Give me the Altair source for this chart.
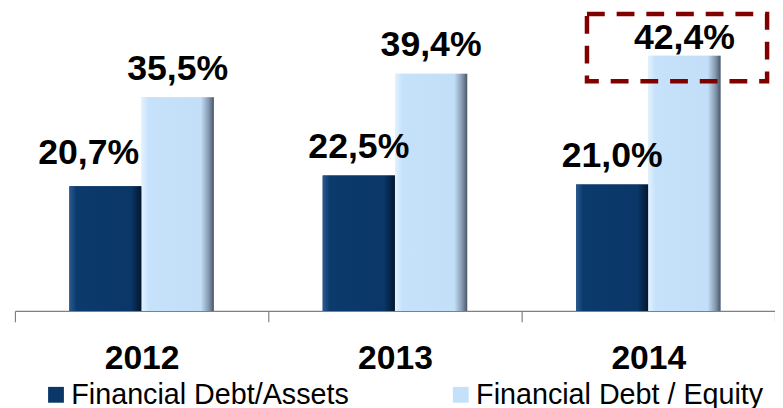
import altair as alt
import pandas as pd

years = ["2012", "2013", "2014"]
series = ["Financial Debt/Assets", "Financial Debt / Equity"]
debt_assets = [20.7, 22.5, 21.0]
debt_equity = [35.5, 39.4, 42.4]
label_assets = ["20,7%", "22,5%", "21,0%"]
label_equity = ["35,5%", "39,4%", "42,4%"]

rows = []
for i, y in enumerate(years):
    rows.append({"year": y, "series": series[0], "value": debt_assets[i], "label": label_assets[i]})
    rows.append({"year": y, "series": series[1], "value": debt_equity[i], "label": label_equity[i]})
df = pd.DataFrame(rows)

DARK = "#0a3768"
LIGHT = "#c5e1fa"
FONT = "Liberation Sans"

x_enc = alt.X(
    "year:N",
    sort=years,
    scale=alt.Scale(paddingInner=0, paddingOuter=0),
    axis=alt.Axis(
        title=None, labelAngle=0, labelFontSize=34, labelFontWeight="bold",
        labelColor="black", labelFont=FONT, tickBand="extent", tickSize=11,
        tickColor="#808080", domainColor="#808080", tickWidth=1.2, domainWidth=1.2,
        labelPadding=20, grid=False,
    ),
)
xo_enc = alt.XOffset("series:N", sort=series, scale=alt.Scale(paddingInner=0, paddingOuter=0.753))
y_enc = alt.Y("value:Q", scale=alt.Scale(domain=[0, 50], nice=False), axis=None)

base = alt.Chart(df)

bars = base.mark_bar().encode(
    x=x_enc, xOffset=xo_enc, y=y_enc,
    color=alt.Color(
        "series:N", sort=series,
        scale=alt.Scale(domain=series, range=[DARK, LIGHT]),
        legend=alt.Legend(
            title=None, orient="none", legendX=27, legendY=374, direction="horizontal",
            symbolType="square", symbolSize=256, symbolStrokeWidth=0,
            labelFontSize=29, labelFont=FONT, labelColor="black", labelOffset=1,
            labelLimit=0, columnPadding=98, padding=0,
        ),
    ),
)

dark_grad = alt.Gradient(
    gradient="linear", x1=0, x2=1, y1=0, y2=0,
    stops=[
        alt.GradientStop(color="#2a5a90", offset=0),
        alt.GradientStop(color="#0b3a6c", offset=0.1),
        alt.GradientStop(color="#0a3768", offset=0.85),
        alt.GradientStop(color="#03162e", offset=1),
    ],
)
light_grad = alt.Gradient(
    gradient="linear", x1=0, x2=1, y1=0, y2=0,
    stops=[
        alt.GradientStop(color="#e2f2ff", offset=0),
        alt.GradientStop(color="#c6e2fb", offset=0.1),
        alt.GradientStop(color="#c3dff8", offset=0.82),
        alt.GradientStop(color="#8397ae", offset=0.93),
        alt.GradientStop(color="#4a5566", offset=1),
    ],
)

bars_dark = base.transform_filter(alt.datum.series == series[0]).mark_bar(fill=dark_grad).encode(
    x=x_enc, xOffset=xo_enc, y=y_enc)
bars_light = base.transform_filter(alt.datum.series == series[1]).mark_bar(fill=light_grad).encode(
    x=x_enc, xOffset=xo_enc, y=y_enc)

txt_kw = dict(font=FONT, fontSize=36, fontWeight="bold", color="black", baseline="alphabetic")

labels_main = base.transform_filter(
    "!((datum.year == '2012' && datum.series == 'Financial Debt/Assets') || (datum.year == '2014' && datum.series == 'Financial Debt / Equity'))"
).mark_text(dy=-18, **txt_kw).encode(x=x_enc, xOffset=xo_enc, y=y_enc, text="label:N")

labels_shift = base.transform_filter(
    "datum.year == '2012' && datum.series == 'Financial Debt/Assets'"
).mark_text(dy=-23, dx=-17, **txt_kw).encode(x=x_enc, xOffset=xo_enc, y=y_enc, text="label:N")

labels_top = base.transform_filter(
    "datum.year == '2014' && datum.series == 'Financial Debt / Equity'"
).mark_text(dy=-7, **txt_kw).encode(x=x_enc, xOffset=xo_enc, y=y_enc, text="label:N")

box = alt.Chart(pd.DataFrame({"k": [0]})).mark_rect(
    fillOpacity=0, stroke="#800000", strokeWidth=4.5, strokeDash=[18, 12]
).encode(x=alt.value(578), x2=alt.value(760), y=alt.value(4), y2=alt.value(72))

chart = alt.layer(bars, bars_dark, bars_light, labels_main, labels_shift, labels_top, box).properties(
    width=768, height=304,
    autosize=alt.AutoSizeParams(type="none"),
    padding={"left": 7, "top": 0, "right": 0, "bottom": 96},
    background="white",
).configure_view(stroke=None)

chart.save("out.html", embed_options={"renderer": "svg", "actions": False})
